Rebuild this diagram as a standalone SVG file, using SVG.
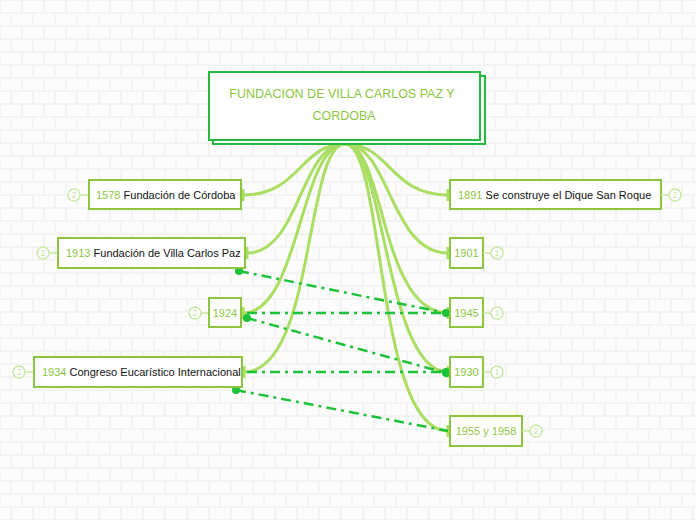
<svg xmlns="http://www.w3.org/2000/svg" width="696" height="520" viewBox="0 0 696 520">
<defs>
<pattern id="brick" width="44" height="26" patternUnits="userSpaceOnUse">
<rect width="44" height="26" fill="#f3f3f3"/>
<rect x="1" y="1" width="20" height="11" fill="#fcfcfc"/>
<rect x="23" y="1" width="20" height="11" fill="#fcfcfc"/>
<rect x="-10" y="14" width="20" height="11" fill="#fcfcfc"/>
<rect x="12" y="14" width="20" height="11" fill="#fcfcfc"/>
<rect x="34" y="14" width="20" height="11" fill="#fcfcfc"/>
</pattern>
<marker id="tee" markerWidth="4" markerHeight="14" refX="2" refY="7" orient="auto" markerUnits="userSpaceOnUse">
<rect x="0.5" y="1" width="3" height="12" fill="#a9de63"/>
</marker>
<marker id="dot" markerWidth="10" markerHeight="10" refX="5" refY="5" markerUnits="userSpaceOnUse">
<circle cx="5" cy="5" r="4" fill="#1ec23a"/>
</marker>
</defs>
<style>
.box{fill:#ffffff;stroke:#8cc63f;stroke-width:2}
.t{font-family:"Liberation Sans",Arial,sans-serif;font-size:11px;fill:#111}
.y{fill:#8cc63f}
.badge circle{fill:#ffffff;stroke:#c8e8a4;stroke-width:1.5}
.badge text{font-family:"Liberation Sans",Arial,sans-serif;font-size:9px;fill:#c8e8a4;text-anchor:middle}
.badge line{stroke:#c8e8a4;stroke-width:1.5}
.c{fill:none;stroke:#a9de63;stroke-width:3;marker-end:url(#tee)}
.d{fill:none;stroke:#1ec23a;stroke-width:2.5;stroke-dasharray:10 5 3 5}
.title{font-family:"Liberation Sans",Arial,sans-serif;font-size:12.5px;fill:#8cc63f;text-anchor:middle}
</style>
<rect width="696" height="520" fill="url(#brick)"/>

<g id="connectors">
<path class="c" d="M345,144 C300,144 300,195 243,195"/>
<path class="c" d="M345,144 C300,144 300,253 247,253"/>
<path class="c" d="M345,144 C300,144 300,313 243,313"/>
<path class="c" d="M345,144 C305,144 315,372 244,372"/>
<path class="c" d="M345,144 C390,144 390,195 448,195"/>
<path class="c" d="M345,144 C390,144 390,253 448,253"/>
<path class="c" d="M345,144 C385,144 380,313 448,313"/>
<path class="c" d="M345,144 C385,144 385,372 448,372"/>
<path class="c" d="M345,144 C385,144 375,431 448,431"/>
<path class="d" d="M239,271 L446,313" marker-start="url(#dot)" marker-end="url(#dot)"/>
<path class="d" d="M247,313 L446,313"/>
<path class="d" d="M247,318 L446,373" marker-start="url(#dot)" marker-end="url(#dot)"/>
<path class="d" d="M247,372 L446,372" marker-end="url(#dot)"/>
<path class="d" d="M236,390 L448,431" marker-start="url(#dot)"/>
</g>

<g id="root">
<rect x="213" y="76" width="272" height="68" fill="#ffffff" stroke="#22bb3a" stroke-width="2"/>
<rect x="209" y="72" width="271" height="68" fill="#ffffff" stroke="#22bb3a" stroke-width="2"/>
<text class="title" x="342" y="98">FUNDACION DE VILLA CARLOS PAZ Y</text>
<text class="title" x="344" y="120">CORDOBA</text>
</g>

<g id="n1578">
<g class="badge"><line x1="80" y1="195" x2="89" y2="195"/><circle cx="74" cy="195" r="6"/><text x="74" y="198">2</text></g>
<rect class="box" x="89" y="180" width="152" height="29"/>
<text class="t" x="96" y="199"><tspan class="y">1578</tspan> Fundación de Córdoba</text>
</g>

<g id="n1913">
<g class="badge"><line x1="49" y1="253" x2="58" y2="253"/><circle cx="43" cy="253" r="6"/><text x="43" y="256">2</text></g>
<rect class="box" x="58" y="238" width="187" height="30"/>
<text class="t" x="66" y="257"><tspan class="y">1913</tspan> Fundación de Villa Carlos Paz</text>
</g>

<g id="n1924">
<g class="badge"><line x1="201" y1="313" x2="209" y2="313"/><circle cx="195" cy="313" r="6"/><text x="195" y="316">2</text></g>
<rect class="box" x="209" y="298" width="32" height="29"/>
<text class="t y" x="225" y="317" text-anchor="middle">1924</text>
</g>

<g id="n1934">
<g class="badge"><line x1="25" y1="372" x2="34" y2="372"/><circle cx="19" cy="372" r="6"/><text x="19" y="375">2</text></g>
<rect class="box" x="34" y="357" width="208" height="30"/>
<text class="t" x="42" y="376"><tspan class="y">1934</tspan> Congreso Eucarístico Internacional</text>
</g>

<g id="n1891">
<rect class="box" x="450" y="180" width="211" height="29"/>
<text class="t" x="458" y="199"><tspan class="y">1891</tspan> Se construye el Dique San Roque</text>
<g class="badge"><line x1="661" y1="195" x2="669" y2="195"/><circle cx="675" cy="195" r="6"/><text x="675" y="198">2</text></g>
</g>

<g id="n1901">
<rect class="box" x="450" y="238" width="33" height="30"/>
<text class="t y" x="466.5" y="257" text-anchor="middle">1901</text>
<g class="badge"><line x1="483" y1="253" x2="491" y2="253"/><circle cx="497" cy="253" r="6"/><text x="497" y="256">1</text></g>
</g>

<g id="n1945">
<rect class="box" x="450" y="298" width="33" height="29"/>
<text class="t y" x="466.5" y="317" text-anchor="middle">1945</text>
<g class="badge"><line x1="483" y1="313" x2="491" y2="313"/><circle cx="497" cy="313" r="6"/><text x="497" y="316">1</text></g>
</g>

<g id="n1930">
<rect class="box" x="450" y="357" width="33" height="30"/>
<text class="t y" x="466.5" y="376" text-anchor="middle">1930</text>
<g class="badge"><line x1="483" y1="372" x2="491" y2="372"/><circle cx="497" cy="372" r="6"/><text x="497" y="375">1</text></g>
</g>

<g id="n1955">
<rect class="box" x="450" y="416" width="72" height="30"/>
<text class="t y" x="486" y="435" text-anchor="middle">1955 y 1958</text>
<g class="badge"><line x1="522" y1="431" x2="530" y2="431"/><circle cx="536" cy="431" r="6"/><text x="536" y="434">2</text></g>
</g>
</svg>
